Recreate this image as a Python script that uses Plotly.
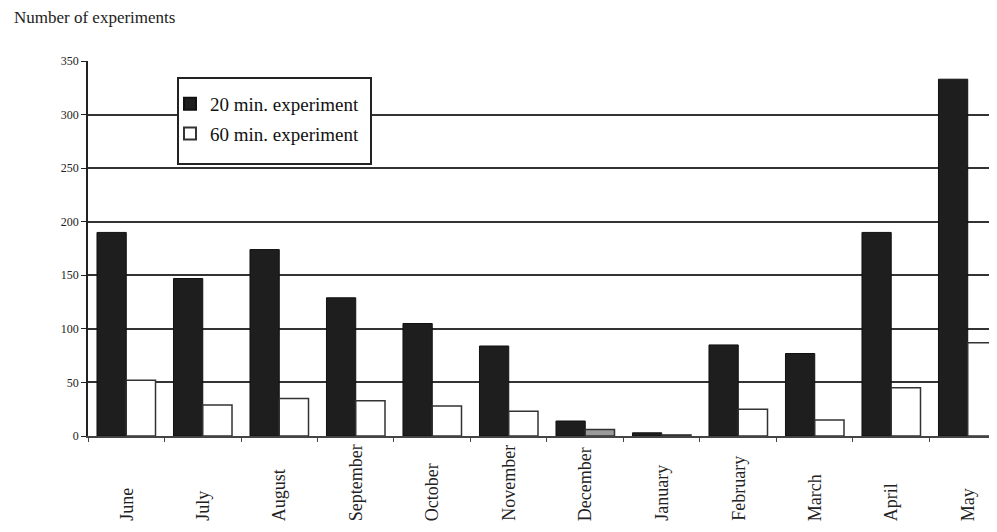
import plotly.graph_objects as go

months = ["June", "July", "August", "September", "October", "November",
          "December", "January", "February", "March", "April", "May"]
exp20 = [190, 147, 174, 129, 105, 84, 14, 3, 85, 77, 190, 333]
exp60 = [52, 29, 35, 33, 28, 23, 6, 1, 25, 15, 45, 87]
yticks = [0, 50, 100, 150, 200, 250, 300, 350]

SERIF = "Liberation Serif, Times New Roman, serif"

fig = go.Figure()
fig.add_trace(go.Bar(
    x=months, y=exp20, name="20 min. experiment", legendgroup="a",
    marker=dict(color="#1e1e1e", line=dict(color="#111", width=1)),
))
white_cols = ["#ffffff"] * len(months)
white_cols[6] = "#9a9a9a"
fig.add_trace(go.Bar(
    x=months, y=exp60, name="60 min. experiment", legendgroup="b",
    marker=dict(color=white_cols, line=dict(color="#333", width=1.5)),
))

for m in months:
    fig.add_annotation(x=m, y=-0.232, xref="x", yref="paper", text=m,
                       textangle=-90, showarrow=False, xanchor="center",
                       yanchor="bottom", font=dict(family=SERIF, size=18, color="#222"))

fig.add_annotation(text="Number of experiments", xref="paper", yref="paper",
                   x=-0.0844, y=1.115, xanchor="left", yanchor="middle",
                   showarrow=False, font=dict(family=SERIF, size=17, color="#222"))

# legend frame
fig.add_shape(type="rect", xref="paper", yref="paper", layer="above",
              x0=0.0999, x1=0.3141, y0=0.7253, y1=0.9547,
              fillcolor="white", line=dict(color="#222", width=2))

fig.update_layout(
    width=981, height=516,
    margin=dict(l=80, r=0, t=53, b=88),
    plot_bgcolor="white", paper_bgcolor="white",
    barmode="group", bargap=0.235, bargroupgap=0,
    font=dict(family=SERIF, color="#222"),
    showlegend=True,
    legend=dict(x=0.091, y=0.936, xanchor="left", yanchor="top",
                bgcolor="rgba(0,0,0,0)", borderwidth=0,
                font=dict(family=SERIF, size=19, color="#111"),
                itemsizing="constant", tracegroupgap=2),
)

fig.update_xaxes(
    range=[-0.5, 11.278], showticklabels=False, showline=True,
    linecolor="#444", linewidth=2, ticks="outside", tickcolor="#444",
    ticklen=4, tickson="boundaries", showgrid=False,
)
fig.update_yaxes(
    range=[0, 350], tickvals=yticks, showline=True, linecolor="#222",
    linewidth=1.5, ticks="outside", ticklen=5, tickcolor="#222",
    showgrid=True, gridcolor="#333", gridwidth=2, zeroline=False,
    tickfont=dict(family=SERIF, size=12, color="#222"),
)

fig.write_html("out.html")
